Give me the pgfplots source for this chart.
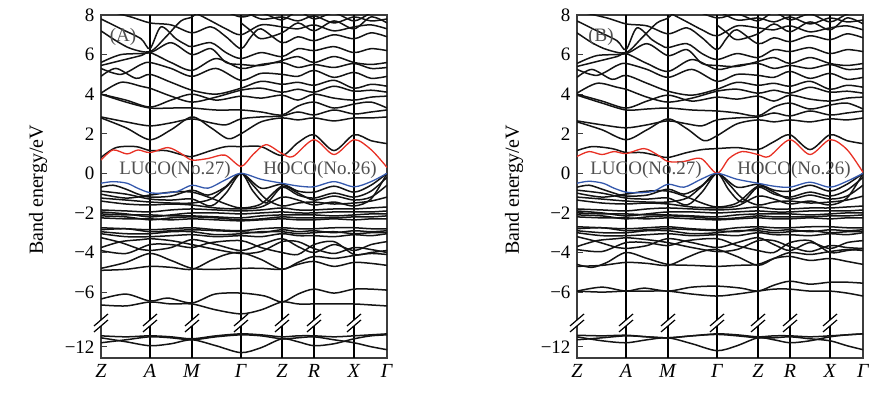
\documentclass[border=0pt]{standalone}
\usepackage{fontspec}
\setmainfont{Liberation Serif}
\usepackage{pgfplots}
\pgfplotsset{compat=1.18}
\definecolor{redband}{RGB}{232,48,36}
\definecolor{blueband}{RGB}{52,88,172}
\definecolor{txtgray}{RGB}{80,80,80}
\definecolor{framegray}{RGB}{60,60,60}
\pgfplotsset{
  band/.style={black!92, line width=1.5pt, smooth, no marks},
  deep/.style={band, y filter/.expression={y+3.24}},
  bandaxis/.style={
    anchor=south west, scale only axis, width=286pt, height=343pt,
    xmin=0, xmax=286, ymin=-9.33, ymax=8,
    xtick={0,49,91,140,181,213,253,286},
    xticklabels={\textit{Z},\textit{A},\textit{M},\textit{Γ},\textit{Z},\textit{R},\textit{X},\textit{Γ}},
    ytick={8,6,4,2,0,-2,-4,-6,-8.76},
    yticklabels={8,6,4,2,0,−2,−4,−6,−12},
    ytick pos=left, tick align=inside, major tick length=6pt,
    x tick style={draw=none}, y tick style={line width=1pt, framegray},
    axis line style={line width=1.2pt, framegray},
    yticklabel style={font=\fontsize{19}{22}\selectfont, xshift=-3pt},
    xticklabel style={font=\fontsize{20}{24}\selectfont, yshift=-3pt},
    ylabel={Band energy/eV},
    every axis y label/.style={at={(axis description cs:-0.22,0.49)}, rotate=90, anchor=center, font=\fontsize{20}{24}\selectfont},
    clip mode=individual,
  },
}
\newcommand{\vlines}{\pgfplotsinvokeforeach{49,91,140,181,213,253}{\draw[black, line width=1.2pt] (axis cs:##1,-9.33) -- (axis cs:##1,8);}}
\newcommand{\breaks}{\pgfplotsinvokeforeach{0,49,91,140,181,213,253}{%
  \fill[white] ([shift={(-7pt,-9pt)}]axis cs:##1,-7.56) -- ([shift={(7pt,3pt)}]axis cs:##1,-7.56) -- ([shift={(7pt,9pt)}]axis cs:##1,-7.56) -- ([shift={(-7pt,-3pt)}]axis cs:##1,-7.56) -- cycle;
  \draw[black, line width=1.2pt] ([shift={(-7pt,-9pt)}]axis cs:##1,-7.56) -- ([shift={(7pt,3pt)}]axis cs:##1,-7.56);
  \draw[black, line width=1.2pt] ([shift={(-7pt,-3pt)}]axis cs:##1,-7.56) -- ([shift={(7pt,9pt)}]axis cs:##1,-7.56);
}}
\newcommand{\bnd}[1]{\addplot[band] coordinates {#1};}
\newcommand{\dbnd}[1]{\addplot[deep] coordinates {#1};}
\begin{document}
\begin{tikzpicture}
\path[use as bounding box] (0,0) rectangle (888pt,398pt);
% ---------------- Panel A ----------------
\begin{axis}[bandaxis, at={(101pt,40pt)}]
\vlines
% deep bands
\dbnd{(0,-11.45)(25,-11.5)(49,-11.45)(70,-11.5)(91,-11.6)(115,-11.45)(140,-11.35)(160,-11.4)(181,-11.5)(197,-11.45)(213,-11.45)(233,-11.5)(253,-11.45)(270,-11.4)(286,-11.35)}
\dbnd{(0,-11.55)(25,-11.75)(49,-11.95)(70,-11.85)(91,-11.65)(115,-11.95)(140,-12.3)(160,-12.05)(181,-11.6)(197,-11.75)(213,-11.95)(233,-11.85)(253,-11.6)(270,-11.45)(286,-11.4)}
\dbnd{(0,-11.8)(25,-11.65)(49,-11.5)(70,-11.55)(91,-11.65)(115,-11.5)(140,-11.4)(160,-11.45)(181,-11.6)(197,-11.55)(213,-11.5)(233,-11.65)(253,-11.8)(270,-12.0)(286,-12.15)}
% -6 group
\bnd{(0,-6.35)(25,-6.1)(49,-6.45)(67,-6.3)(91,-6.55)(114,-6.1)(140,-6.05)(164,-6.2)(181,-6.5)(197,-6.1)(213,-5.85)(233,-6.05)(253,-5.85)(270,-5.85)(286,-5.9)}
\bnd{(0,-6.65)(25,-6.7)(49,-6.5)(70,-6.6)(91,-6.6)(115,-6.9)(140,-7.1)(160,-6.9)(181,-6.5)(197,-6.6)(213,-6.6)(233,-6.6)(253,-6.6)(270,-6.65)(286,-6.7)}
% -4 / -5
\bnd{(0,-4.8)(25,-4.5)(49,-4.05)(70,-4.4)(91,-4.8)(115,-4.85)(140,-4.8)(160,-4.8)(181,-4.85)(197,-4.6)(213,-4.45)(233,-4.7)(253,-4.5)(270,-4.55)(286,-4.65)}
\bnd{(0,-4.9)(25,-4.85)(49,-4.7)(70,-4.75)(91,-4.85)(110,-4.4)(125,-4.1)(140,-4.0)(160,-4.35)(181,-4.85)(197,-4.5)(213,-4.2)(233,-4.3)(253,-4.15)(270,-4.05)(286,-4.1)}
\bnd{(0,-3.25)(20,-3.5)(40,-3.85)(49,-3.9)(70,-3.75)(91,-3.35)(115,-3.6)(140,-3.9)(160,-3.6)(181,-3.3)(197,-3.7)(213,-4.0)(233,-3.6)(253,-3.9)(270,-3.6)(286,-3.45)}
\bnd{(0,-3.75)(20,-3.45)(40,-3.35)(49,-3.3)(70,-3.4)(91,-3.6)(115,-3.85)(140,-4.05)(160,-3.95)(181,-3.45)(197,-3.45)(213,-3.8)(233,-4.05)(253,-3.75)(270,-3.85)(286,-4.0)}
\bnd{(0,-3.9)(25,-4.05)(49,-3.6)(70,-3.6)(91,-3.75)(110,-3.5)(140,-3.4)(160,-3.75)(181,-4.0)(197,-4.1)(213,-3.6)(233,-3.45)(253,-4.1)(270,-4.0)(286,-3.9)}
% -3 cluster
\bnd{(0,-2.75)(25,-2.8)(49,-2.85)(70,-2.8)(91,-2.75)(115,-2.85)(140,-2.9)(160,-2.8)(181,-2.75)(197,-2.8)(213,-2.8)(233,-2.75)(253,-2.75)(270,-2.8)(286,-2.8)}
\bnd{(0,-2.85)(25,-2.8)(49,-2.95)(70,-2.9)(91,-2.85)(115,-2.9)(140,-2.95)(160,-3.0)(181,-2.85)(197,-2.95)(213,-2.9)(233,-3.0)(253,-2.9)(270,-2.95)(286,-2.9)}
\bnd{(0,-2.95)(25,-3.05)(49,-3.05)(70,-2.95)(91,-2.95)(115,-3.1)(140,-3.05)(160,-2.95)(181,-2.95)(197,-3.05)(213,-3.0)(233,-2.95)(253,-3.05)(270,-3.0)(286,-3.0)}
\bnd{(0,-3.05)(25,-3.2)(49,-3.2)(70,-3.15)(91,-3.1)(115,-3.2)(140,-3.15)(160,-3.2)(181,-3.05)(197,-3.15)(213,-3.15)(233,-3.2)(253,-3.1)(270,-3.15)(286,-3.05)}
% -2 cluster
\bnd{(0,-1.85)(25,-1.9)(49,-1.95)(70,-1.85)(91,-1.8)(115,-1.85)(140,-1.9)(160,-1.85)(181,-1.75)(197,-1.85)(213,-1.85)(233,-1.8)(253,-1.8)(270,-1.75)(286,-1.7)}
\bnd{(0,-1.95)(25,-2.05)(49,-2.2)(70,-2.1)(91,-2.0)(115,-2.0)(140,-2.05)(160,-2.0)(181,-1.95)(197,-2.0)(213,-2.0)(233,-1.95)(253,-1.95)(270,-1.95)(286,-1.9)}
\bnd{(0,-2.05)(25,-2.1)(49,-2.1)(70,-2.15)(91,-2.15)(115,-2.2)(140,-2.25)(160,-2.15)(181,-2.1)(197,-2.1)(213,-2.1)(233,-2.15)(253,-2.1)(270,-2.05)(286,-2.05)}
\bnd{(0,-2.15)(25,-2.2)(49,-2.35)(70,-2.25)(91,-2.2)(115,-2.25)(140,-2.35)(160,-2.3)(181,-2.2)(197,-2.25)(213,-2.25)(233,-2.25)(253,-2.2)(270,-2.2)(286,-2.15)}
\bnd{(0,-2.25)(25,-2.3)(49,-2.3)(70,-2.35)(91,-2.3)(115,-2.35)(140,-2.4)(160,-2.35)(181,-2.3)(197,-2.35)(213,-2.35)(233,-2.3)(253,-2.35)(270,-2.3)(286,-2.3)}
% upper valence
\bnd{(0,-0.7)(12,-0.6)(25,-0.8)(37,-1.05)(49,-1.2)(70,-1.15)(91,-0.85)(107,-1.1)(124,-0.7)(140,0)(160,-0.75)(181,-0.55)(197,-0.9)(213,-0.95)(233,-0.65)(253,-0.95)(270,-0.6)(286,0)}
\bnd{(0,-0.9)(25,-1.05)(49,-1.3)(70,-1.35)(91,-1.3)(110,-1.65)(125,-1.0)(140,0)(152,-0.9)(165,-1.5)(181,-0.7)(197,-1.1)(213,-1.25)(233,-1.0)(253,-1.2)(270,-0.9)(286,-0.2)}
\bnd{(0,-1.05)(25,-1.25)(49,-1.1)(70,-0.95)(91,-0.95)(110,-1.25)(125,-1.55)(140,-1.75)(160,-1.55)(181,-0.65)(197,-1.0)(213,-1.35)(233,-1.15)(253,-1.35)(270,-1.2)(286,-0.6)}
\bnd{(0,-1.25)(25,-1.35)(49,-1.45)(70,-1.5)(91,-1.5)(110,-1.3)(125,-0.7)(140,0)(152,-0.6)(165,-1.3)(181,-1.65)(197,-1.5)(213,-1.45)(233,-1.55)(253,-1.5)(270,-1.4)(286,-1.2)}
\bnd{(0,-1.4)(25,-1.55)(49,-1.6)(70,-1.55)(91,-1.6)(115,-1.75)(140,-1.8)(160,-1.7)(181,-1.2)(197,-1.35)(213,-1.6)(233,-1.45)(253,-1.65)(270,-1.3)(286,0)}
% conduction
\bnd{(0,0.8)(15,1.3)(35,1.35)(49,1.15)(65,1.15)(80,0.95)(91,0.85)(110,1.15)(125,1.35)(140,1.35)(160,1.35)(181,0.9)(197,1.55)(213,1.95)(233,1.15)(253,1.95)(270,1.65)(286,1.5)}
\bnd{(0,2.8)(25,2.3)(49,1.7)(70,2.2)(91,2.85)(110,2.3)(127,1.75)(140,2.0)(160,2.6)(181,2.8)(197,2.7)(213,2.8)(233,2.65)(253,2.8)(270,2.8)(286,2.85)}
\bnd{(0,2.85)(25,2.6)(49,2.4)(70,2.55)(91,2.75)(110,2.55)(125,2.45)(140,2.75)(160,2.85)(181,2.9)(197,3.1)(213,2.95)(233,3.2)(253,3.0)(270,3.1)(286,3.2)}
\bnd{(0,4.0)(25,3.6)(49,3.3)(70,3.3)(91,3.3)(115,3.2)(140,3.2)(160,3.1)(181,2.95)(197,3.4)(213,3.6)(233,3.3)(253,3.5)(270,3.6)(286,3.3)}
\bnd{(0,4.0)(25,3.7)(49,3.35)(70,3.7)(91,4.0)(115,3.7)(140,3.9)(160,3.8)(181,3.95)(197,3.7)(213,4.0)(233,3.8)(253,3.7)(270,3.85)(286,3.9)}
\bnd{(0,4.05)(20,4.6)(40,4.4)(49,4.3)(70,3.9)(91,3.6)(115,3.85)(140,4.2)(160,4.3)(181,4.1)(197,4.25)(213,4.1)(233,4.4)(253,4.15)(270,4.2)(286,4.1)}
\bnd{(0,4.9)(15,5.3)(35,4.8)(49,5.0)(70,4.6)(91,4.2)(115,4.0)(140,4.3)(160,4.65)(181,4.5)(197,4.6)(213,4.45)(233,4.7)(253,4.3)(270,4.5)(286,4.4)}
\bnd{(0,5.3)(20,5.0)(40,5.5)(49,5.6)(70,5.3)(91,4.9)(115,5.3)(140,4.7)(160,5.05)(181,5.0)(197,4.9)(213,5.2)(233,4.85)(253,5.1)(270,4.8)(286,4.9)}
\bnd{(0,5.45)(20,5.7)(40,5.95)(49,6.1)(70,5.6)(91,5.2)(115,5.8)(140,5.3)(160,5.5)(181,5.6)(197,5.35)(213,5.5)(233,5.35)(253,5.55)(270,5.3)(286,5.35)}
\bnd{(0,5.6)(20,6.0)(49,6.1)(70,6.6)(91,6.0)(110,6.3)(125,5.6)(140,5.5)(160,5.45)(181,5.7)(197,5.9)(213,5.6)(233,5.9)(253,5.6)(270,5.5)(286,5.6)}
\bnd{(0,7.8)(20,7.3)(40,6.8)(49,6.3)(60,7.4)(75,6.8)(85,6.5)(91,6.4)(110,6.6)(125,6.1)(140,5.8)(160,6.1)(181,5.9)(197,6.3)(213,6.2)(233,6.4)(253,6.1)(270,6.3)(286,6.2)}
\bnd{(0,8.3)(30,7.9)(49,7.6)(70,7.5)(91,7.1)(110,7.4)(125,6.9)(140,6.3)(150,6.9)(160,7.3)(181,6.6)(197,6.9)(213,6.7)(233,7.0)(253,6.8)(270,7.1)(286,6.9)}
\bnd{(91,8.2)(110,7.7)(125,7.3)(140,7.0)(160,7.5)(181,7.4)(197,7.3)(213,7.5)(233,7.2)(253,7.4)(270,7.5)(286,7.3)}
\bnd{(140,8.3)(160,7.8)(181,7.9)(197,7.7)(213,7.95)(233,7.6)(253,7.9)(270,7.7)(286,7.8)}
\bnd{(140,7.6)(150,7.2)(160,6.8)(181,7.1)(197,7.6)(213,7.2)(233,7.7)(253,7.3)(270,7.9)(286,7.6)}
\bnd{(120,8.3)(140,7.9)(160,8.1)(181,7.75)(197,8.2)(213,7.8)(233,8.1)(253,7.7)(270,8.1)(286,8.3)}
\bnd{(0,7.2)(15,6.7)(30,6.3)(49,6.15)(65,6.9)(80,7.7)(91,7.9)(100,8.3)}
% LUCO / HOCO
\addplot[redband, line width=1.3pt, smooth] coordinates {(0,0.67)(12,1.18)(26,0.98)(37,1.18)(49,1.05)(67,1.3)(80,1.0)(91,0.67)(107,0.75)(124,0.92)(140,0.35)(152,0.95)(165,1.45)(181,1.0)(192,0.85)(213,1.7)(233,0.95)(253,1.7)(270,1.2)(286,0.3)};
\addplot[blueband, line width=1.3pt, smooth] coordinates {(0,-0.5)(12,-0.42)(26,-0.5)(37,-0.76)(49,-0.98)(63,-1.0)(77,-0.9)(91,-0.6)(107,-0.75)(124,-0.34)(140,0)(160,-0.3)(181,-0.5)(197,-0.64)(213,-0.68)(233,-0.42)(253,-0.68)(270,-0.42)(286,0)};
\node[text=txtgray, font=\fontsize{19}{22}\selectfont] at (axis cs:74,0.15) {LUCO(No.27)};
\node[text=txtgray, font=\fontsize{19}{22}\selectfont] at (axis cs:219,0.15) {HOCO(No.26)};
\node[text=txtgray, font=\fontsize{19}{22}\selectfont] at (axis cs:22,6.9) {(A)};
\breaks
\end{axis}
% ---------------- Panel B ----------------
\begin{axis}[bandaxis, at={(577pt,40pt)}]
\vlines
\dbnd{(0,-11.42)(25,-11.45)(49,-11.42)(70,-11.5)(91,-11.55)(115,-11.45)(140,-11.35)(160,-11.4)(181,-11.5)(197,-11.45)(213,-11.45)(233,-11.5)(253,-11.45)(270,-11.4)(286,-11.35)}
\dbnd{(0,-11.5)(25,-11.7)(49,-11.8)(70,-11.65)(91,-11.55)(115,-11.85)(140,-12.2)(160,-11.95)(181,-11.55)(197,-11.65)(213,-11.8)(233,-11.7)(253,-11.5)(270,-11.4)(286,-11.35)}
\dbnd{(0,-11.65)(25,-11.55)(49,-11.45)(70,-11.5)(91,-11.55)(115,-11.45)(140,-11.38)(160,-11.45)(181,-11.55)(197,-11.55)(213,-11.5)(233,-11.6)(253,-11.7)(270,-11.95)(286,-12.15)}
\bnd{(0,-5.95)(25,-5.75)(49,-5.95)(67,-5.8)(91,-5.95)(115,-5.75)(140,-5.7)(164,-5.8)(181,-5.95)(197,-5.65)(213,-5.45)(233,-5.6)(253,-5.5)(270,-5.5)(286,-5.55)}
\bnd{(0,-5.95)(25,-6.0)(49,-5.95)(70,-5.95)(91,-5.95)(115,-6.1)(140,-6.2)(160,-6.1)(181,-5.95)(197,-5.85)(213,-5.85)(233,-5.95)(253,-5.95)(270,-6.05)(286,-6.2)}
\bnd{(0,-4.6)(15,-4.75)(30,-4.5)(49,-4.0)(70,-4.3)(91,-4.6)(115,-4.65)(140,-4.7)(160,-4.65)(181,-4.6)(197,-4.3)(213,-4.2)(233,-4.4)(253,-4.3)(270,-4.45)(286,-4.6)}
\bnd{(0,-4.7)(25,-4.65)(49,-4.5)(70,-4.55)(91,-4.65)(110,-4.25)(125,-3.95)(140,-3.85)(160,-4.2)(181,-4.65)(197,-4.3)(213,-4.0)(233,-4.1)(253,-3.95)(270,-3.85)(286,-3.9)}
\bnd{(0,-3.2)(20,-3.45)(40,-3.75)(49,-3.8)(70,-3.65)(91,-3.3)(115,-3.5)(140,-3.75)(160,-3.5)(181,-3.25)(197,-3.6)(213,-3.9)(233,-3.5)(253,-3.8)(270,-3.5)(286,-3.4)}
\bnd{(0,-3.7)(20,-3.4)(40,-3.3)(49,-3.25)(70,-3.35)(91,-3.5)(115,-3.75)(140,-3.95)(160,-3.85)(181,-3.4)(197,-3.4)(213,-3.7)(233,-3.95)(253,-3.65)(270,-3.75)(286,-3.8)}
\bnd{(0,-3.85)(25,-3.95)(49,-3.5)(70,-3.5)(91,-3.65)(110,-3.4)(140,-3.3)(160,-3.65)(181,-3.9)(197,-4.0)(213,-3.5)(233,-3.4)(253,-4.0)(270,-3.9)(286,-3.8)}
\bnd{(0,-2.7)(25,-2.75)(49,-2.8)(70,-2.75)(91,-2.7)(115,-2.8)(140,-2.85)(160,-2.75)(181,-2.7)(197,-2.75)(213,-2.75)(233,-2.7)(253,-2.7)(270,-2.75)(286,-2.75)}
\bnd{(0,-2.8)(25,-2.75)(49,-2.9)(70,-2.85)(91,-2.8)(115,-2.85)(140,-2.9)(160,-2.95)(181,-2.8)(197,-2.9)(213,-2.85)(233,-2.95)(253,-2.85)(270,-2.9)(286,-2.85)}
\bnd{(0,-2.9)(25,-3.0)(49,-3.0)(70,-2.9)(91,-2.9)(115,-3.05)(140,-3.0)(160,-2.9)(181,-2.9)(197,-3.0)(213,-2.95)(233,-2.9)(253,-3.0)(270,-2.95)(286,-2.95)}
\bnd{(0,-3.0)(25,-3.15)(49,-3.15)(70,-3.1)(91,-3.05)(115,-3.15)(140,-3.1)(160,-3.15)(181,-3.0)(197,-3.1)(213,-3.1)(233,-3.15)(253,-3.05)(270,-3.1)(286,-3.0)}
\bnd{(0,-1.8)(25,-1.85)(49,-1.9)(70,-1.8)(91,-1.75)(115,-1.8)(140,-1.85)(160,-1.8)(181,-1.7)(197,-1.8)(213,-1.8)(233,-1.75)(253,-1.75)(270,-1.7)(286,-1.65)}
\bnd{(0,-1.9)(25,-2.0)(49,-2.15)(70,-2.05)(91,-1.95)(115,-1.95)(140,-2.0)(160,-1.95)(181,-1.9)(197,-1.95)(213,-1.95)(233,-1.9)(253,-1.9)(270,-1.9)(286,-1.85)}
\bnd{(0,-2.0)(25,-2.05)(49,-2.05)(70,-2.1)(91,-2.1)(115,-2.15)(140,-2.2)(160,-2.1)(181,-2.05)(197,-2.05)(213,-2.05)(233,-2.1)(253,-2.05)(270,-2.0)(286,-2.0)}
\bnd{(0,-2.1)(25,-2.15)(49,-2.3)(70,-2.2)(91,-2.15)(115,-2.2)(140,-2.3)(160,-2.25)(181,-2.15)(197,-2.2)(213,-2.2)(233,-2.2)(253,-2.15)(270,-2.15)(286,-2.1)}
\bnd{(0,-2.2)(25,-2.25)(49,-2.25)(70,-2.3)(91,-2.25)(115,-2.3)(140,-2.35)(160,-2.3)(181,-2.25)(197,-2.3)(213,-2.3)(233,-2.25)(253,-2.3)(270,-2.25)(286,-2.25)}
\bnd{(0,-0.7)(12,-0.6)(25,-0.8)(37,-1.0)(49,-1.15)(70,-1.1)(91,-0.8)(107,-1.05)(124,-0.65)(140,0)(160,-0.7)(181,-0.55)(197,-0.85)(213,-0.9)(233,-0.6)(253,-0.9)(270,-0.55)(286,0)}
\bnd{(0,-0.85)(25,-1.0)(49,-1.25)(70,-1.3)(91,-1.25)(110,-1.6)(125,-0.95)(140,0)(152,-0.85)(165,-1.45)(181,-0.7)(197,-1.05)(213,-1.2)(233,-0.95)(253,-1.15)(270,-0.85)(286,-0.2)}
\bnd{(0,-1.0)(25,-1.2)(49,-1.05)(70,-0.9)(91,-0.9)(110,-1.2)(125,-1.5)(140,-1.7)(160,-1.5)(181,-0.65)(197,-0.95)(213,-1.3)(233,-1.1)(253,-1.3)(270,-1.15)(286,-0.6)}
\bnd{(0,-1.2)(25,-1.3)(49,-1.4)(70,-1.45)(91,-1.45)(110,-1.25)(125,-0.65)(140,0)(152,-0.55)(165,-1.25)(181,-1.6)(197,-1.45)(213,-1.4)(233,-1.5)(253,-1.45)(270,-1.35)(286,-1.15)}
\bnd{(0,-1.35)(25,-1.5)(49,-1.55)(70,-1.5)(91,-1.55)(115,-1.7)(140,-1.75)(160,-1.65)(181,-1.15)(197,-1.3)(213,-1.55)(233,-1.4)(253,-1.6)(270,-1.25)(286,0)}
\bnd{(0,1.15)(15,1.35)(35,1.25)(49,1.05)(65,1.05)(80,0.9)(91,0.8)(110,1.05)(125,1.2)(140,1.25)(160,1.3)(181,1.2)(197,1.6)(213,1.95)(233,1.2)(253,1.95)(270,1.65)(286,1.5)}
\bnd{(0,2.6)(25,2.2)(49,1.7)(70,2.2)(91,2.75)(110,2.25)(127,1.65)(140,1.9)(160,2.5)(181,2.7)(197,2.6)(213,2.7)(233,2.6)(253,2.75)(270,2.7)(286,2.8)}
\bnd{(0,2.65)(25,2.45)(49,2.3)(70,2.45)(91,2.65)(110,2.5)(125,2.4)(140,2.7)(160,2.8)(181,2.85)(197,3.05)(213,2.9)(233,3.15)(253,2.95)(270,3.05)(286,3.15)}
\bnd{(0,3.95)(25,3.55)(49,3.2)(70,3.25)(91,3.3)(115,3.2)(140,3.15)(160,3.05)(181,2.9)(197,3.35)(213,3.55)(233,3.25)(253,3.45)(270,3.55)(286,3.25)}
\bnd{(0,4.0)(25,3.65)(49,3.3)(70,3.65)(91,3.95)(115,3.65)(140,3.85)(160,3.75)(181,3.9)(197,3.65)(213,3.95)(233,3.75)(253,3.65)(270,3.8)(286,3.85)}
\bnd{(0,4.05)(20,4.55)(40,4.35)(49,4.25)(70,3.85)(91,3.6)(115,3.8)(140,4.15)(160,4.25)(181,4.05)(197,4.2)(213,4.05)(233,4.35)(253,4.1)(270,4.15)(286,4.05)}
\bnd{(0,4.85)(15,5.25)(35,4.75)(49,4.95)(70,4.55)(91,4.15)(115,3.95)(140,4.25)(160,4.6)(181,4.45)(197,4.55)(213,4.4)(233,4.65)(253,4.25)(270,4.45)(286,4.35)}
\bnd{(0,5.25)(20,4.95)(40,5.45)(49,5.55)(70,5.25)(91,4.85)(115,5.25)(140,4.65)(160,5.0)(181,4.95)(197,4.85)(213,5.15)(233,4.8)(253,5.05)(270,4.75)(286,4.85)}
\bnd{(0,5.4)(20,5.65)(40,5.9)(49,6.05)(70,5.55)(91,5.15)(115,5.75)(140,5.25)(160,5.45)(181,5.55)(197,5.3)(213,5.45)(233,5.3)(253,5.5)(270,5.25)(286,5.3)}
\bnd{(0,5.55)(20,5.95)(49,6.05)(70,6.55)(91,5.95)(110,6.25)(125,5.55)(140,5.45)(160,5.4)(181,5.65)(197,5.85)(213,5.55)(233,5.85)(253,5.55)(270,5.45)(286,5.55)}
\bnd{(0,7.7)(20,7.2)(40,6.7)(49,6.25)(60,7.35)(75,6.75)(85,6.45)(91,6.35)(110,6.55)(125,6.05)(140,5.75)(160,6.05)(181,5.85)(197,6.25)(213,6.15)(233,6.35)(253,6.05)(270,6.25)(286,6.15)}
\bnd{(0,8.2)(30,7.85)(49,7.55)(70,7.45)(91,7.05)(110,7.35)(125,6.85)(140,6.25)(150,6.85)(160,7.25)(181,6.55)(197,6.85)(213,6.65)(233,6.95)(253,6.75)(270,7.05)(286,6.85)}
\bnd{(91,8.15)(110,7.65)(125,7.25)(140,6.95)(160,7.45)(181,7.35)(197,7.25)(213,7.45)(233,7.15)(253,7.35)(270,7.45)(286,7.25)}
\bnd{(140,8.25)(160,7.75)(181,7.85)(197,7.65)(213,7.9)(233,7.55)(253,7.85)(270,7.65)(286,7.75)}
\bnd{(140,7.5)(150,7.1)(160,6.75)(181,7.05)(197,7.55)(213,7.15)(233,7.65)(253,7.25)(270,7.85)(286,7.55)}
\bnd{(115,8.3)(140,7.85)(160,8.05)(181,7.7)(197,8.15)(213,7.75)(233,8.05)(253,7.65)(270,8.05)(286,8.3)}
\bnd{(0,7.1)(15,6.6)(30,6.25)(49,6.1)(65,6.85)(80,7.6)(91,7.85)(100,8.3)}
\addplot[redband, line width=1.3pt, smooth] coordinates {(0,0.85)(12,1.1)(25,0.95)(37,1.1)(49,1.0)(67,1.25)(80,0.95)(91,0.6)(107,0.6)(124,0.75)(140,0.0)(152,0.75)(165,1.1)(181,0.95)(192,0.85)(213,1.7)(233,0.95)(253,1.7)(270,1.2)(286,0.05)};
\addplot[blueband, line width=1.3pt, smooth] coordinates {(0,-0.5)(12,-0.4)(26,-0.5)(37,-0.75)(49,-0.95)(63,-0.98)(77,-0.9)(91,-0.55)(107,-0.7)(124,-0.3)(140,0)(160,-0.3)(181,-0.5)(197,-0.65)(213,-0.7)(233,-0.45)(253,-0.7)(270,-0.4)(286,0)};
\node[text=txtgray, font=\fontsize{19}{22}\selectfont] at (axis cs:69,0.15) {LUCO(No.27)};
\node[text=txtgray, font=\fontsize{19}{22}\selectfont] at (axis cs:217,0.15) {HOCO(No.26)};
\node[text=txtgray, font=\fontsize{19}{22}\selectfont] at (axis cs:24,6.9) {(B)};
\breaks
\end{axis}
\end{tikzpicture}
\end{document}
